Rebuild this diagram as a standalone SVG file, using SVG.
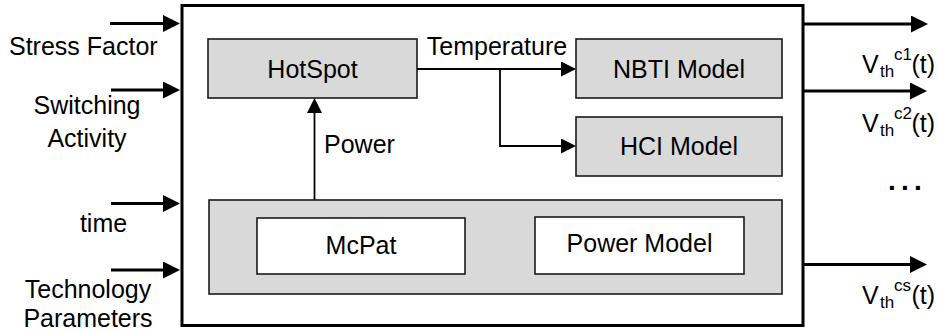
<svg xmlns="http://www.w3.org/2000/svg" width="938" height="331" viewBox="0 0 938 331">
<style>
text{font-family:"Liberation Sans",Arial,sans-serif;font-size:25px;fill:#000}
.mid{text-anchor:middle}
.box{fill:#d9d9d9;stroke:#1a1a1a;stroke-width:1.6}
.wbox{fill:#fff;stroke:#1a1a1a;stroke-width:1.6}
.thick{stroke:#000;stroke-width:3;fill:none}
.thin{stroke:#000;stroke-width:1.8;fill:none}
.sub{font-size:17px}
.sup{font-size:17px}
.dots{font-weight:bold;font-size:28px;letter-spacing:5.2px}
</style>
<defs>
<marker id="big" markerUnits="userSpaceOnUse" markerWidth="17" markerHeight="17" refX="7" refY="8.5" orient="auto">
<path d="M0,0 L17,8.5 L0,17 z" fill="#000"/>
</marker>
<marker id="small" markerUnits="userSpaceOnUse" markerWidth="15" markerHeight="15" refX="5" refY="7.5" orient="auto">
<path d="M0,0 L15,7.5 L0,15 z" fill="#000"/>
</marker>
</defs>
<g id="system">
<rect x="182" y="5.5" width="621" height="320" fill="#fff" stroke="#000" stroke-width="3"/>
</g>
<g id="hotspot">
<rect class="box" x="208" y="39" width="209" height="59"/>
<text class="mid" x="312.5" y="77.5">HotSpot</text>
</g>
<g id="nbti">
<rect class="box" x="576" y="39" width="206" height="59"/>
<text class="mid" x="679" y="77.5">NBTI Model</text>
</g>
<g id="hci">
<rect class="box" x="576" y="117" width="206" height="59"/>
<text class="mid" x="679" y="155">HCI Model</text>
</g>
<g id="power-block">
<rect class="box" x="209" y="200" width="573" height="94"/>
</g>
<g id="mcpat">
<rect class="wbox" x="257" y="218" width="208" height="56"/>
<text class="mid" x="361" y="253.5">McPat</text>
</g>
<g id="power-model">
<rect class="wbox" x="535" y="217" width="209" height="57"/>
<text class="mid" x="639.5" y="252">Power Model</text>
</g>
<g id="connectors">
<line class="thick" x1="110" y1="23.5" x2="170" y2="23.5" marker-end="url(#big)"/>
<line class="thick" x1="111" y1="90" x2="170" y2="90" marker-end="url(#big)"/>
<line class="thick" x1="111" y1="203.5" x2="170" y2="203.5" marker-end="url(#big)"/>
<line class="thick" x1="111" y1="270" x2="170" y2="270" marker-end="url(#big)"/>
<line class="thick" x1="803" y1="24" x2="918" y2="24" marker-end="url(#big)"/>
<line class="thick" x1="803" y1="91" x2="917" y2="91" marker-end="url(#big)"/>
<line class="thick" x1="803" y1="264.5" x2="917" y2="264.5" marker-end="url(#big)"/>
<line class="thin" x1="417" y1="69" x2="566" y2="69" marker-end="url(#small)"/>
<polyline class="thin" points="500,69 500,146 566,146" marker-end="url(#small)"/>
<line class="thin" x1="314.5" y1="200" x2="314.5" y2="108" marker-end="url(#small)"/>
</g>
<g id="labels">
<text x="9" y="55">Stress Factor</text>
<text class="mid" x="87" y="114">Switching</text>
<text class="mid" x="87" y="146.5">Activity</text>
<text class="mid" x="103.5" y="232">time</text>
<text class="mid" x="88" y="298">Technology</text>
<text class="mid" x="88" y="327">Parameters</text>
<text class="mid" x="497" y="55">Temperature</text>
<text x="324" y="153">Power</text>
<text x="862" y="73">V<tspan class="sub" x="880" y="77">th</tspan><tspan class="sup" x="894" y="60">c1</tspan><tspan x="911.5" y="73">(t)</tspan></text>
<text x="862" y="131.5">V<tspan class="sub" x="880" y="135.5">th</tspan><tspan class="sup" x="894" y="118.5">c2</tspan><tspan x="911.5" y="131.5">(t)</tspan></text>
<text x="862" y="304">V<tspan class="sub" x="880" y="308">th</tspan><tspan class="sup" x="894" y="291">cs</tspan><tspan x="911.5" y="304">(t)</tspan></text>
<text class="dots" x="888" y="189.5">...</text>
</g>
</svg>
